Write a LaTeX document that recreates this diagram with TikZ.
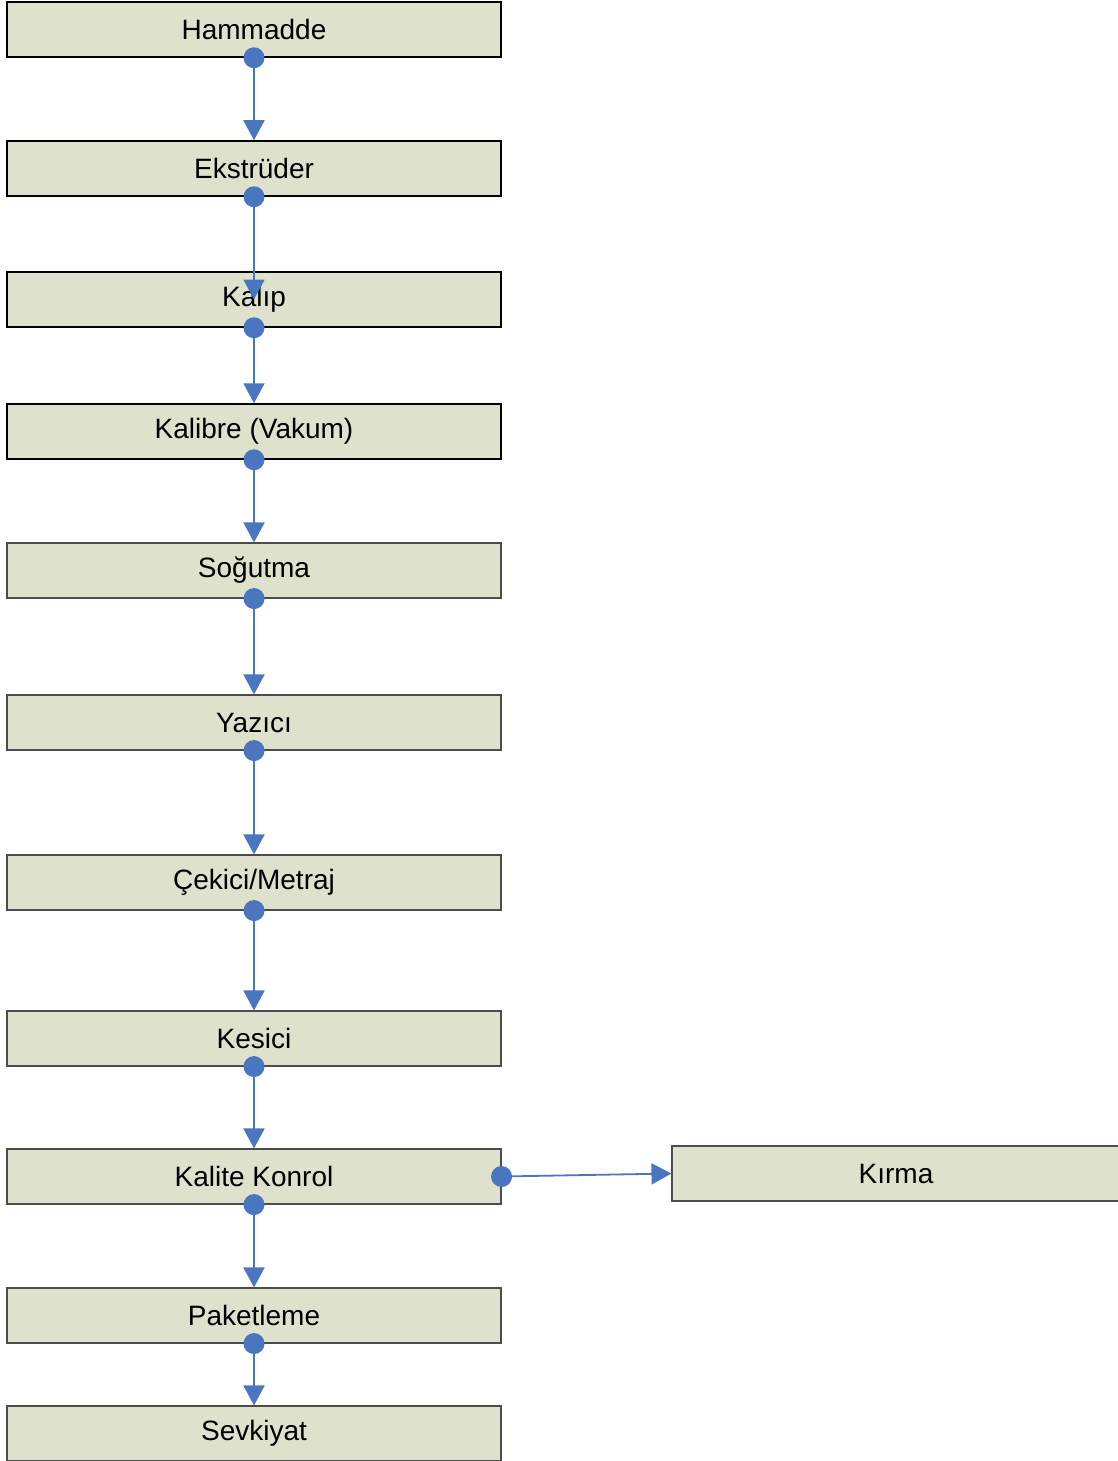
\documentclass[tikz,border=0pt]{standalone}
\usepackage{fontspec}
\setmainfont{Liberation Sans}
\usetikzlibrary{arrows.meta}
\definecolor{boxfill}{HTML}{DEE1CB}
\definecolor{flowblue}{HTML}{4A76C0}
\tikzset{
  stage/.style={draw=black, line width=1.5pt, fill=boxfill, rectangle, minimum width=494pt, minimum height=55pt, inner sep=0pt, font=\fontsize{28}{32}\selectfont},
  stagegray/.style={stage, draw=black!70, line width=1.1pt},
  flow/.style={draw=flowblue, line width=1.8pt, -{Triangle[width=21pt,length=20pt]}},
  dot/.style={circle, fill=flowblue, minimum size=21pt, inner sep=0pt}
}
\begin{document}
\begin{tikzpicture}[x=1pt,y=-1pt]
\useasboundingbox (0,0) rectangle (1117,1461);
\node[stage] (ham) at (254,29.5) {Hammadde};
\node[stage] (eks) at (254,168.5) {Ekstrüder};
\node[stage] (kal) at (254,299.5) {Kalıp};
\node[stage] (kbr) at (254,431.5) {Kalibre (Vakum)};
\node[stagegray] (sog) at (254,570.5) {Soğutma};
\node[stagegray] (yaz) at (254,722.5) {Yazıcı};
\node[stagegray] (cek) at (254,882.5) {Çekici/Metraj};
\node[stagegray] (kes) at (254,1038.5) {Kesici};
\node[stagegray] (kk) at (254,1176.5) {Kalite Konrol};
\node[stagegray] (pak) at (254,1315.5) {Paketleme};
\node[stagegray] (sev) at (254,1433.5) {Sevkiyat};
\node[stagegray, minimum width=448pt] (kir) at (896,1173.5) {Kırma};
\draw[flow] (ham.south) -- (eks.north);
\draw[flow] (eks.south) -- (kal.center);
\draw[flow] (kal.south) -- (kbr.north);
\draw[flow] (kbr.south) -- (sog.north);
\draw[flow] (sog.south) -- (yaz.north);
\draw[flow] (yaz.south) -- (cek.north);
\draw[flow] (cek.south) -- (kes.north);
\draw[flow] (kes.south) -- (kk.north);
\draw[flow] (kk.south) -- (pak.north);
\draw[flow] (pak.south) -- (sev.north);
\draw[flow] (kk.east) -- (kir.west);
\foreach \n in {ham,eks,kal,kbr,sog,yaz,cek,kes,kk,pak}
  \node[dot] (d\n) at (\n.south) {};
\node[dot] (dkkr) at (kk.east) {};
\end{tikzpicture}
\end{document}
